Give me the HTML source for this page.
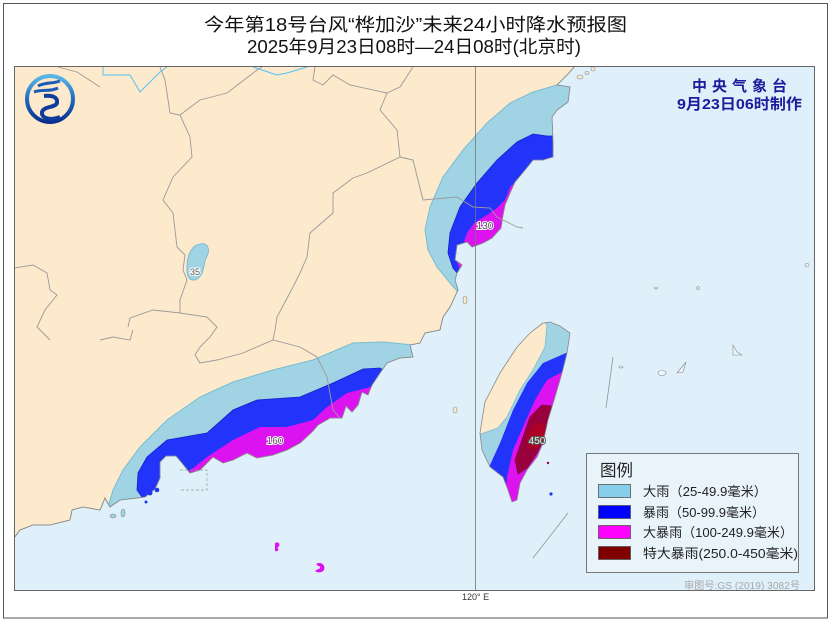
<!DOCTYPE html>
<html><head><meta charset="utf-8"><style>
html,body{margin:0;padding:0;background:#fff;}
svg{display:block;}
text{font-family:"Liberation Sans","Noto Sans CJK SC",sans-serif;}
</style></head><body>
<svg width="831" height="628" viewBox="0 0 831 628" xmlns="http://www.w3.org/2000/svg">
<defs>
<clipPath id="frame"><rect x="14.5" y="66.5" width="800" height="524"/></clipPath>
<clipPath id="ml"><path id="mlp" d="M14,66 L575,66 L568,74 L557,85 L570,87 L568,102 L557,110 L552,117 L553,143 L553,157 L543,160 L533,160 L525,170 L515,182 L510,193 L505,205 L503,215 L501,228 L492,238 L483,243 L472,247 L467,242 L457,245 L455,260 L462,265 L457,273 L455,280 L458,290 L450,307 L443,317 L440,330 L425,333 L420,343 L410,345 L413,357 L400,358 L387,363 L380,373 L372,385 L368,395 L362,392 L358,405 L352,412 L346,406 L342,418 L330,418 L318,425 L312,432 L300,443 L287,450 L273,455 L257,458 L247,453 L233,460 L223,463 L213,457 L200,470 L190,473 L182,463 L176,456 L166,456 L160,462 L160,478 L155,489 L145,497 L120,500 L110,507 L105,498 L100,510 L83,507 L72,510 L70,520 L50,525 L33,525 L20,530 L14,538 Z"/></clipPath>
<clipPath id="tw"><path d="M543,323 L550,322 L560,326 L570,333 L567,353 L562,373 L555,397 L548,420 L543,443 L537,457 L527,470 L520,483 L517,500 L512,502 L508,490 L503,477 L490,467 L482,450 L480,433 L482,420 L485,402 L500,373 L517,347 L530,333 Z"/></clipPath>
<linearGradient id="lg" x1="0" y1="0" x2="0" y2="1">
<stop offset="0" stop-color="#5ab8e8"/><stop offset="0.5" stop-color="#1f6cc0"/><stop offset="1" stop-color="#0a2f8f"/></linearGradient>
</defs>

<rect x="3.5" y="3.5" width="824" height="614.5" fill="#fff" stroke="#555" stroke-width="1"/>

<text x="204" y="31" font-size="18" fill="#111" textLength="423" lengthAdjust="spacingAndGlyphs">今年第18号台风“桦加沙”未来24小时降水预报图</text>
<text x="247" y="53" font-size="18" fill="#111" textLength="334" lengthAdjust="spacingAndGlyphs">2025年9月23日08时—24日08时(北京时)</text>

<g clip-path="url(#frame)">
<rect x="14" y="66" width="802" height="526" fill="#dff0fa"/>
<use href="#mlp" fill="#fde9cb" stroke="#8a8a8a" stroke-width="0.8"/>
<g clip-path="url(#ml)">
 <path d="M557,85 L533,92 L510,103 L487,123 L463,150 L443,177 L430,207 L425,230 L428,250 L437,267 L450,283 L458,292 L470,300 L620,300 L620,82 L560,82 Z" fill="#a0d4e4" stroke="#78bcd2" stroke-width="1"/>
 <path d="M547,136 L533,134 L517,142 L497,160 L477,183 L460,207 L450,233 L448,253 L453,268 L458,274 L470,285 L620,285 L620,136 Z" fill="#2233fa" stroke="#1520c8" stroke-width="0.8"/>
 <path d="M515,182 L510,187 L505,200 L497,208 L487,215 L474,223 L467,233 L463,245 L460,252 L457,262 L466,285 L620,285 L620,176 Z" fill="#dd12f0"/>
 <path d="M413,345 L383,342 L353,343 L313,360 L273,370 L233,382 L200,397 L167,420 L140,447 L123,470 L113,490 L108,507 L105,560 L430,560 L430,345 Z" fill="#a0d4e4" stroke="#78bcd2" stroke-width="1"/>
 <path d="M386,372 L380,368 L363,369 L333,383 L300,397 L257,400 L233,410 L207,433 L167,440 L147,457 L138,473 L137,490 L142,497 L142,560 L420,560 L420,372 Z" fill="#2233fa" stroke="#1520c8" stroke-width="0.8"/>
 <path d="M372,386 L367,388 L347,393 L327,407 L313,420 L287,427 L260,427 L233,440 L207,457 L187,473 L180,480 L178,560 L420,560 L420,386 Z" fill="#dd12f0"/>
</g>
<use href="#mlp" fill="none" stroke="#8a8a8a" stroke-width="0.8"/>

<path d="M200,244 C208,242 211,250 206,258 C203,265 205,276 195,280 C186,281 186,270 188,258 C190,250 194,245 200,244 Z" fill="#a0d4e4" stroke="#6fb6d0" stroke-width="0.8"/>

<g clip-path="url(#tw)">
 <rect x="470" y="315" width="110" height="195" fill="#a0d4e4"/>
 <path d="M547,325 L545,347 L533,370 L520,390 L507,417 L498,428 L478,435 L470,400 L530,310 Z" fill="#fde9cb" stroke="#78bcd2" stroke-width="0.8"/>
 <path d="M575,350 L566,353 L543,363 L527,383 L513,410 L500,443 L490,465 L485,480 L530,520 L600,520 L600,350 Z" fill="#2233fa"/>
 <path d="M575,370 L562,372 L547,380 L535,400 L523,427 L513,450 L507,477 L505,495 L530,520 L600,520 L600,370 Z" fill="#dd12f0"/>
 <path d="M552,406 L542,405 L530,417 L523,437 L515,460 L518,474 L527,468 L537,453 L545,437 L556,420 Z" fill="#98003e" stroke="#7a0030" stroke-width="0.6"/>
 <ellipse cx="536" cy="436" rx="8" ry="14" transform="rotate(18 536 436)" fill="#ac0024"/>
</g>
<path d="M543,323 L550,322 L560,326 L570,333 L567,353 L562,373 L555,397 L548,420 L543,443 L537,457 L527,470 L520,483 L517,500 L512,502 L508,490 L503,477 L490,467 L482,450 L480,433 L482,420 L485,402 L500,373 L517,347 L530,333 Z" fill="none" stroke="#8a8a8a" stroke-width="0.8"/>

<g fill="none" stroke="#9a9a9a" stroke-width="0.9">
 <polyline points="58,67 77,72 100,87"/>
 <polyline points="160,67 165,80 167,93 170,113 180,115 190,137 192,157 173,177 163,200 173,213 177,247 185,255 183,270 187,280 180,300 180,313 153,310 130,318 128,327"/>
 <polyline points="180,115 200,100 227,93 240,83 257,70 262,67"/>
 <polyline points="315,67 313,80 323,85 333,75 350,85 387,93 380,110 397,130 400,157 367,173 353,178 333,193 333,213 310,233 307,257 300,273 293,287 277,317 275,330 273,340"/>
 <polyline points="387,93 400,87 413,67"/>
 <polyline points="400,157 413,160 423,200 457,197 473,207 490,208 497,217 517,227 523,228"/>
 <polyline points="180,313 207,317 217,327 210,337 200,347 195,355 200,363 217,360 243,353 273,340 300,347 317,357 327,377 333,410 340,418"/>
 <polyline points="14,268 33,265 47,273 50,290 57,295 45,310 37,327 50,340"/>
 <polyline points="133,330 130,340 113,337 100,340"/>
 <polyline points="613,357 606,408"/>
 <polyline points="568,513 533,558"/>
</g>
<g fill="none" stroke="#4fc3f7" stroke-width="1">
 <polyline points="103,67 103,75 130,75 133,80 140,92 160,72 167,67"/>
 <polyline points="253,67 277,75 287,73 307,67"/>
</g>
<path d="M180,470 L207,470 L207,490 L180,490" fill="none" stroke="#999" stroke-width="0.7" stroke-dasharray="3,2"/>

<g stroke="#8a8a8a" stroke-width="0.6">
 <ellipse cx="580" cy="77" rx="3" ry="2" fill="#fde9cb"/>
 <ellipse cx="587" cy="73" rx="2" ry="1.5" fill="#fde9cb"/>
 <ellipse cx="593" cy="69" rx="2" ry="2" fill="#fde9cb"/>
 <ellipse cx="113" cy="516" rx="3" ry="2" fill="#a0d4e4"/>
 <ellipse cx="123" cy="513" rx="2" ry="4" fill="#a0d4e4"/>
 <ellipse cx="656" cy="288" rx="1.5" ry="1" fill="#fde9cb"/>
 <ellipse cx="698" cy="288" rx="1.5" ry="1.5" fill="#fde9cb"/>
 <ellipse cx="662" cy="373" rx="4" ry="2.5" fill="#eef6fb"/>
 <path d="M677,373 L686,362 L683,372 Z" fill="#eef6fb"/>
 <path d="M733,345 L737,352 L742,355 L733,355 Z" fill="#eef6fb"/>
 <ellipse cx="621" cy="367" rx="2" ry="1" fill="#eef6fb"/>
 <ellipse cx="807" cy="265" rx="2" ry="1.5" fill="#eef6fb"/>
 <ellipse cx="455" cy="410" rx="2" ry="3" fill="#fde9cb"/>
 <ellipse cx="465" cy="300" rx="2" ry="4" fill="#fde9cb"/>
</g>
<circle cx="150" cy="493" r="2.5" fill="#2233fa"/>
<circle cx="157" cy="490" r="2.3" fill="#2233fa"/>
<circle cx="146" cy="502" r="1.5" fill="#2233fa"/>
<circle cx="548" cy="463" r="1.2" fill="#98003e"/>
<circle cx="551" cy="494" r="1.6" fill="#2233fa"/>
<path d="M275,543 C280,541 281,546 277,548 C280,549 278,552 275,551 Z" fill="#dd12f0"/>
<path d="M316,564 C321,561 326,565 324,570 C322,573 317,573 315,571 L318,569 C321,569 321,566 318,566 Z" fill="#dd12f0"/>

<line x1="475.5" y1="66" x2="475.5" y2="591" stroke="#777" stroke-width="0.8"/>

<g font-size="10" text-anchor="middle" stroke="#fff" stroke-width="2" paint-order="stroke">
 <text x="485" y="229" fill="#555">130</text>
 <text x="275" y="444" fill="#555">160</text>
 <text x="195" y="275" fill="#555" font-size="9">35</text>
</g>
<text x="537" y="444" font-size="10" text-anchor="middle" fill="#eee" stroke="#555" stroke-width="2" paint-order="stroke">450</text>

<circle cx="50" cy="99" r="23" fill="none" stroke="url(#lg)" stroke-width="4"/>
<path d="M38,86 C45,82 52,84 60,81" fill="none" stroke="#1a5cb8" stroke-width="3"/>
<path d="M34,92 C42,89 50,92 58,88" fill="none" stroke="#1a5cb8" stroke-width="3"/>
<path d="M44,96 C52,95 58,97 57,103 C55,108 44,106 42,112 C41,118 50,121 60,117" fill="none" stroke="#0e3d9e" stroke-width="4"/>

<text x="692" y="91" font-size="15" font-weight="bold" fill="#1c1c9c" textLength="95" lengthAdjust="spacing">中央气象台</text>
<text x="677" y="109" font-size="15" font-weight="bold" fill="#1c1c9c" textLength="125" lengthAdjust="spacingAndGlyphs">9月23日06时制作</text>

<rect x="586.5" y="453.5" width="212" height="119" fill="#e8f4fa" stroke="#777" stroke-width="1"/>
<text x="600" y="476" font-size="16.5" fill="#222">图例</text>
<rect x="598.5" y="484.5" width="32" height="13" fill="#87ceeb" stroke="#555" stroke-width="0.8"/>
<rect x="598.5" y="505.5" width="32" height="13" fill="#0000ff" stroke="#555" stroke-width="0.8"/>
<rect x="598.5" y="525.5" width="32" height="13" fill="#ff00ff" stroke="#555" stroke-width="0.8"/>
<rect x="598.5" y="546.5" width="32" height="13" fill="#800000" stroke="#555" stroke-width="0.8"/>
<g font-size="13" fill="#222">
 <text x="643" y="496" textLength="124" lengthAdjust="spacingAndGlyphs">大雨（25-49.9毫米）</text>
 <text x="643" y="517" textLength="122" lengthAdjust="spacingAndGlyphs">暴雨（50-99.9毫米）</text>
 <text x="643" y="537" textLength="150" lengthAdjust="spacingAndGlyphs">大暴雨（100-249.9毫米）</text>
 <text x="643" y="558" textLength="155" lengthAdjust="spacingAndGlyphs">特大暴雨(250.0-450毫米)</text>
</g>
<text x="684" y="589" font-size="10" fill="#a8a8a8" textLength="116" lengthAdjust="spacingAndGlyphs">审图号:GS (2019) 3082号</text>
</g>
<rect x="14.5" y="66.5" width="800" height="524" fill="none" stroke="#666" stroke-width="1"/>

<text x="462" y="600" font-size="9" fill="#333" font-family="Liberation Serif, serif">120° E</text>
</svg>
</body></html>
